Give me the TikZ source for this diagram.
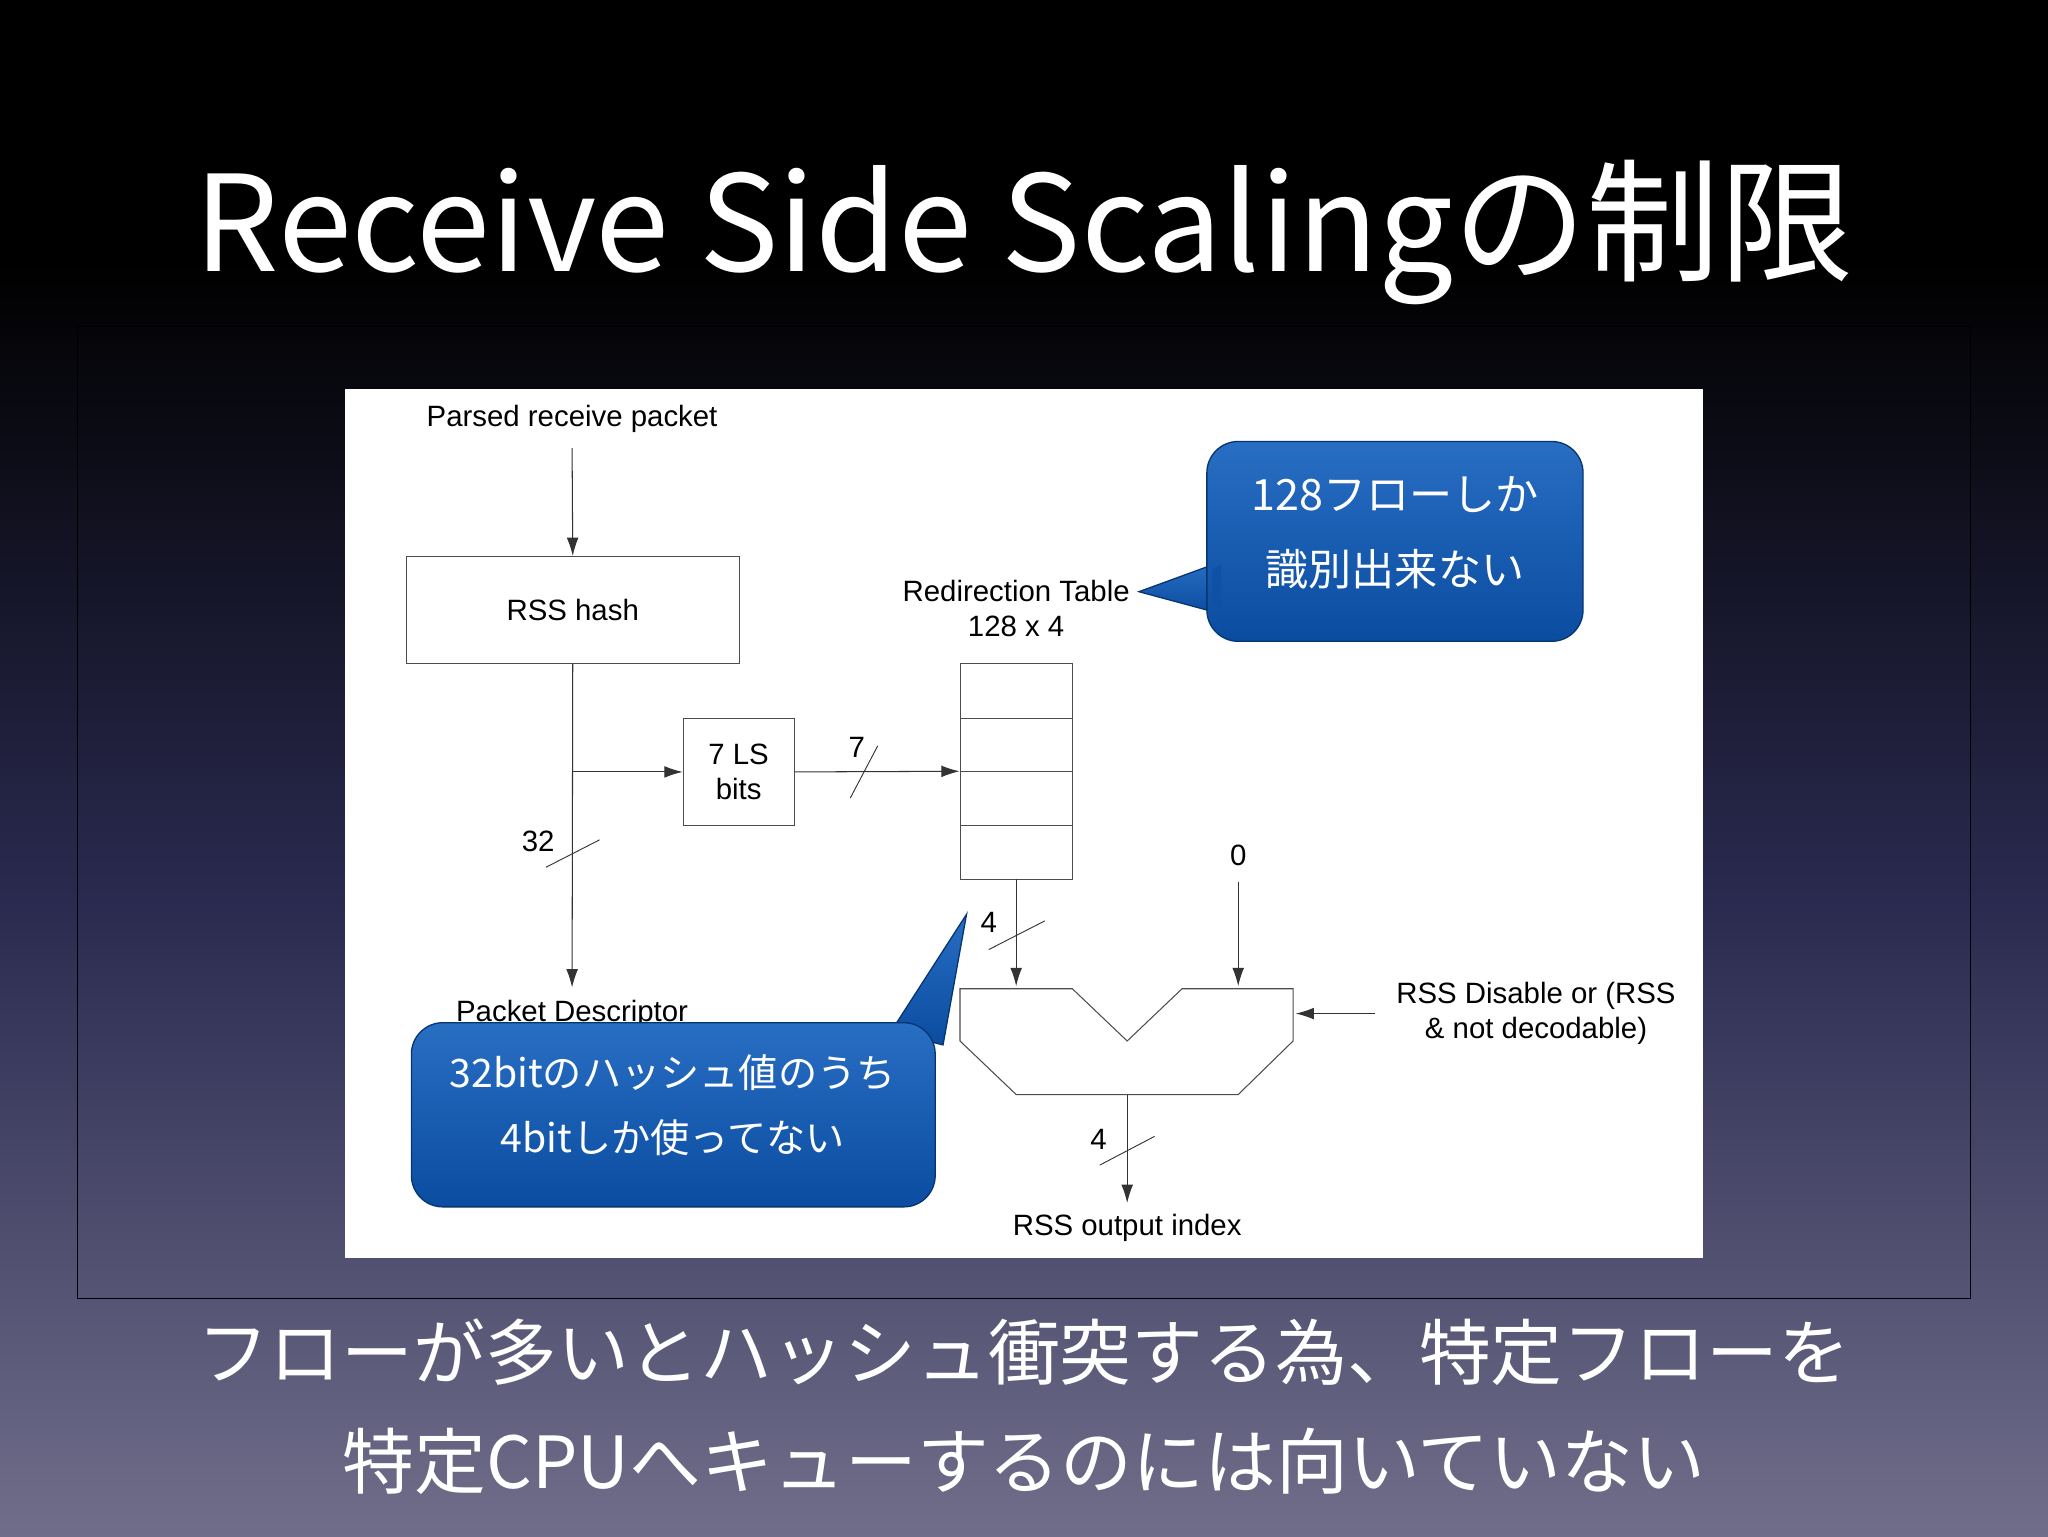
\documentclass[tikz,border=0pt]{standalone}
\usepackage{fontspec}
\setmainfont{Liberation Sans}
\newfontfamily\jp{Noto Sans CJK JP}
\usetikzlibrary{arrows.meta}
\definecolor{bgbot}{RGB}{112,110,138}
\definecolor{bgmid}{RGB}{42,42,80}
\definecolor{cblue}{RGB}{10,76,160}
\definecolor{cbluel}{RGB}{40,110,195}
\begin{document}
\begin{tikzpicture}[x=1pt,y=-1pt,
  box/.style={draw=black!70,line width=0.7pt,minimum width=#1,inner sep=0pt},
  lbl/.style={font=\fontsize{22.5}{27}\selectfont,align=center,inner sep=0pt},
  conn/.style={draw=black!80,line width=0.8pt},
  arr/.style={conn,-{Latex[length=14pt,width=9pt]}},
  slash/.style={draw=black!80,line width=0.7pt},
  callout/.style={top color=cbluel,bottom color=cblue,draw=cblue!70!black,line width=1pt},
  ctext/.style={text=white,font=\jp\fontsize{33}{58}\selectfont,align=center}]
\useasboundingbox (0,0) rectangle (1568,1176);
\fill[black] (0,0) rectangle (1568,201);
\shade[top color=black,bottom color=bgbot,middle color=bgmid] (0,200) rectangle (1568,1176);
\draw[black,line width=0.8pt] (59,250) rectangle (1509,994);
\node[text=white,font=\jp\fontsize{102}{110}\selectfont] (title) at (784,178) {Receive Side Scalingの制限};
\fill[white] (264,298) rectangle (1304,963);
% nodes
\node[lbl] (parsed) at (438,321) {Parsed receive packet};
\node[box=255pt,minimum height=82pt,lbl] (hash) at (438.5,467) {RSS hash};
\node[box=85pt,minimum height=82pt,lbl] (ls) at (565.5,591) {7 LS\\bits};
\node[box=86pt,minimum height=165pt] (tab) at (778,590.5) {};
\foreach \yy in {550,591,632} \draw[black!70,line width=0.7pt] (735,\yy) -- (821,\yy);
\node[lbl] (redir) at (778,466) {Redirection Table\\128 x 4};
\node[lbl] (pd) at (438,776) {Packet Descriptor};
\node[lbl] (zero) at (948,655) {0};
\node[lbl] (dis) at (1176,776) {RSS Disable or (RSS\\\& not decodable)};
\node[lbl] (out) at (863,940) {RSS output index};
\node[lbl] (l7) at (656,572) {7};
\node[lbl] (l32) at (412,644) {32};
\node[lbl] (l4a) at (757,706) {4};
\node[lbl] (l4b) at (841,872) {4};
% mux
\draw[black!70,line width=0.8pt] (735,757) -- (821,757) -- (863,797) -- (905,757) -- (990,757) -- (990,797) -- (948,838) -- (778,838) -- (735,797) -- cycle;
\coordinate (m1) at (778,755); \coordinate (m0) at (948,755);
\coordinate (mr) at (992,776); \coordinate (mo) at (863,838);
\coordinate (disl) at (1053,776); \coordinate (zt) at (948,675);
\coordinate (br) at (438,591); \coordinate (pdt) at (438,756);
\coordinate (outt) at (863,921);
% connectors
\draw[arr] (parsed.south |- 0,343) -- (hash.north);
\draw[arr] (hash.south) -- (pdt);
\draw[arr] (br) -- (ls.west);
\draw[arr] (ls.east) -- (tab.west);
\draw[arr] (tab.south) -- (m1);
\draw[arr] (zt) -- (m0);
\draw[arr] (disl) -- (mr);
\draw[arr] (mo) -- (outt);
\draw[slash] (651,611) -- (672,571);
\draw[slash] (418,664) -- (459,643);
\draw[slash] (757,727) -- (800,705);
\draw[slash] (842,892) -- (884,870);
% callouts
\shade[callout] (872,453) -- (935,430) -- (935,470) -- cycle;
\shade[callout,rounded corners=24pt] (924,338) rectangle (1212,491);
\fill[cblue!85!cbluel] (928,436) -- (935,432) -- (935,468) -- (928,460) -- cycle;
\node[ctext] (c1) at (1068,408) {128フローしか\\識別出来ない};
\shade[callout] (740,700) -- (682,790) -- (722,800) -- cycle;
\shade[callout,rounded corners=24pt] (315,783) rectangle (716,924);
\node[ctext,font=\jp\fontsize{30}{50}\selectfont] (c2) at (515,846) {32bitのハッシュ値のうち\\4bitしか使ってない};
% bottom text
\node[text=white,font=\jp\fontsize{55}{83}\selectfont,align=center] (bt) at (784,1077) {フローが多いとハッシュ衝突する為、特定フローを\\特定CPUへキューするのには向いていない};
\end{tikzpicture}
\end{document}
